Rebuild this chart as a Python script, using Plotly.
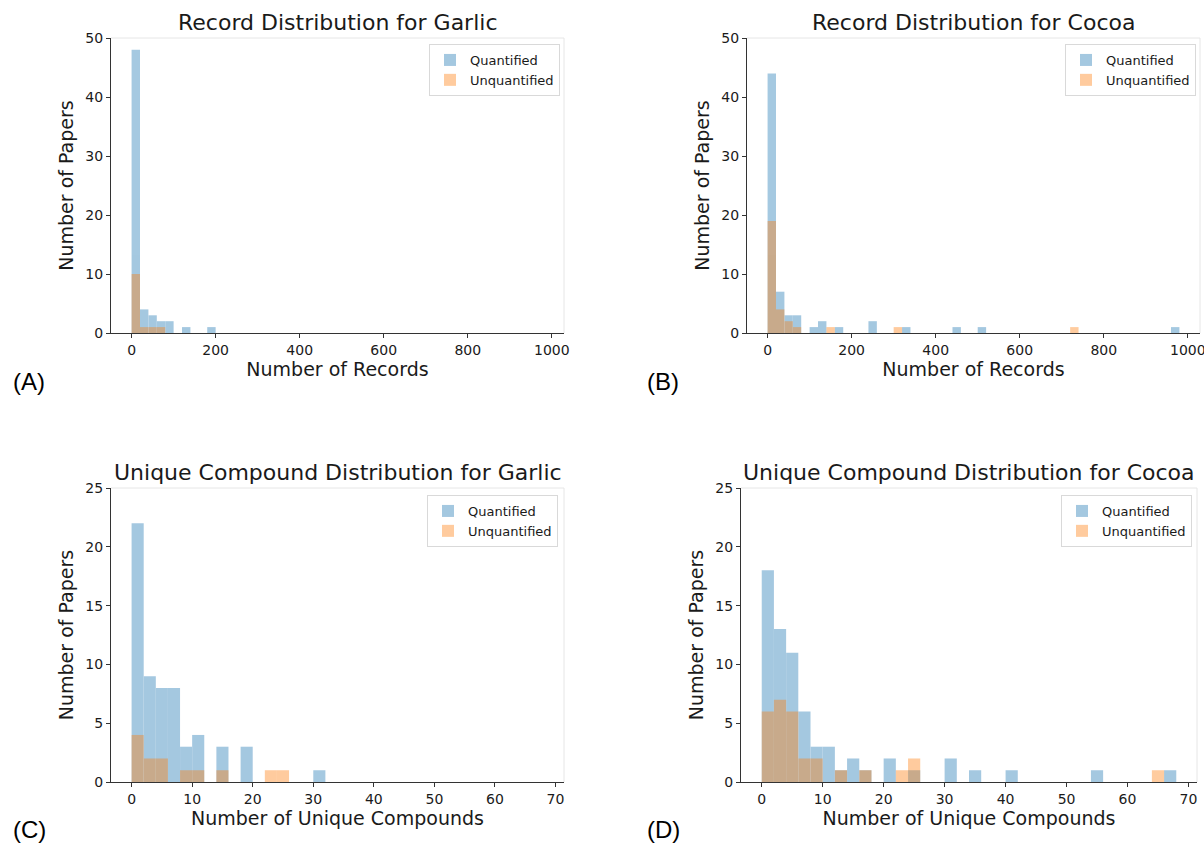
import plotly.graph_objects as go

# ---------------- data (histogram bin left edges & counts) ----------------
rec_bin_width = 20
cmp_bin_width = 2

garlic_rec_q_x = [0, 20, 40, 60, 80, 120, 180]
garlic_rec_q_y = [48, 4, 3, 2, 2, 1, 1]
garlic_rec_u_x = [0, 20, 40, 60]
garlic_rec_u_y = [10, 1, 1, 1]

cocoa_rec_q_x = [0, 20, 40, 60, 100, 120, 160, 240, 320, 440, 500, 960]
cocoa_rec_q_y = [44, 7, 3, 3, 1, 2, 1, 2, 1, 1, 1, 1]
cocoa_rec_u_x = [0, 20, 40, 60, 140, 300, 720]
cocoa_rec_u_y = [19, 4, 2, 1, 1, 1, 1]

garlic_cmp_q_x = [0, 2, 4, 6, 8, 10, 14, 18, 30]
garlic_cmp_q_y = [22, 9, 8, 8, 3, 4, 3, 3, 1]
garlic_cmp_u_x = [0, 2, 4, 8, 10, 14, 22, 24]
garlic_cmp_u_y = [4, 2, 2, 1, 1, 1, 1, 1]

cocoa_cmp_q_x = [0, 2, 4, 6, 8, 10, 12, 14, 16, 20, 24, 30, 34, 40, 54, 66]
cocoa_cmp_q_y = [18, 13, 11, 6, 3, 3, 1, 2, 1, 2, 1, 2, 1, 1, 1, 1]
cocoa_cmp_u_x = [0, 2, 4, 6, 8, 12, 16, 22, 24, 64]
cocoa_cmp_u_y = [6, 7, 6, 2, 2, 1, 1, 1, 2, 1]

titles = ["Record Distribution for Garlic", "Record Distribution for Cocoa",
          "Unique Compound Distribution for Garlic", "Unique Compound Distribution for Cocoa"]
x_titles = ["Number of Records", "Number of Records",
            "Number of Unique Compounds", "Number of Unique Compounds"]
y_title = "Number of Papers"
panel_labels = ["(A)", "(B)", "(C)", "(D)"]
series_names = ["Quantified", "Unquantified"]
rec_ticks = [0, 200, 400, 600, 800, 1000]
cmp_ticks = [0, 10, 20, 30, 40, 50, 60, 70]
rec_yticks = [0, 10, 20, 30, 40, 50]
cmp_yticks = [0, 5, 10, 15, 20, 25]

# ---------------- figure ----------------
W, H = 1204, 843
C_Q = "#1f77b4"
C_U = "#ff7f0e"
FONT = "DejaVu Sans"
TXT = "#1a1a1a"


def fx(px):
    return px / W


def fy(py):
    return 1 - py / H


panels = [
    dict(q=(garlic_rec_q_x, garlic_rec_q_y), u=(garlic_rec_u_x, garlic_rec_u_y), bw=rec_bin_width,
         px=(111, 564), py=(38, 333), xr=[-49, 1029], yr=[0, 50], xt=rec_ticks, yt=rec_yticks,
         leg=(560, 44), lab=(11, 381)),
    dict(q=(cocoa_rec_q_x, cocoa_rec_q_y), u=(cocoa_rec_u_x, cocoa_rec_u_y), bw=rec_bin_width,
         px=(747, 1200), py=(38, 333), xr=[-49, 1029], yr=[0, 50], xt=rec_ticks, yt=rec_yticks,
         leg=(1196, 44), lab=(645, 381)),
    dict(q=(garlic_cmp_q_x, garlic_cmp_q_y), u=(garlic_cmp_u_x, garlic_cmp_u_y), bw=cmp_bin_width,
         px=(111, 564), py=(488, 782), xr=[-3.4, 71.4], yr=[0, 25], xt=cmp_ticks, yt=cmp_yticks,
         leg=(558, 495), lab=(11, 829)),
    dict(q=(cocoa_cmp_q_x, cocoa_cmp_q_y), u=(cocoa_cmp_u_x, cocoa_cmp_u_y), bw=cmp_bin_width,
         px=(741, 1197), py=(488, 782), xr=[-3.4, 71.4], yr=[0, 25], xt=cmp_ticks, yt=cmp_yticks,
         leg=(1192, 495), lab=(645, 829)),
]

fig = go.Figure()
layout = dict(width=W, height=H, margin=dict(l=0, r=0, t=0, b=0, autoexpand=False),
              paper_bgcolor="white", plot_bgcolor="white", barmode="overlay",
              font=dict(family=FONT, color=TXT), annotations=[], shapes=[])

for i, p in enumerate(panels):
    n = "" if i == 0 else str(i + 1)
    xa, ya = "x" + n, "y" + n
    leg = "legend" + n
    for (xs, ys), name, col in [(p["q"], series_names[0], C_Q), (p["u"], series_names[1], C_U)]:
        fig.add_trace(go.Bar(x=xs, y=ys, width=p["bw"], offset=0, name=name,
                             marker=dict(color=col, line=dict(width=0)), opacity=0.4,
                             xaxis=xa, yaxis=ya, legend=leg))
    x0, x1 = fx(p["px"][0]), fx(p["px"][1])
    y1, y0 = fy(p["py"][0]), fy(p["py"][1])
    layout["xaxis" + n] = dict(domain=[x0, x1], range=p["xr"], anchor=ya, tickvals=p["xt"],
                               automargin=False, ticklabeloverflow="allow",
                               showline=True, linecolor="#333", linewidth=1.3, ticks="outside",
                               ticklen=4, tickcolor="#333", showgrid=False, zeroline=False,
                               tickfont=dict(size=14, family=FONT, color=TXT),
                               title=dict(text=x_titles[i], font=dict(size=19, family=FONT, color=TXT),
                                          standoff=2))
    layout["yaxis" + n] = dict(domain=[y0, y1], range=p["yr"], anchor=xa, tickvals=p["yt"],
                               automargin=False, ticklabeloverflow="allow",
                               showline=True, linecolor="#333", linewidth=1.3, ticks="outside",
                               ticklen=4, tickcolor="#333", showgrid=False, zeroline=False,
                               tickfont=dict(size=14, family=FONT, color=TXT),
                               title=dict(text=y_title, font=dict(size=19, family=FONT, color=TXT),
                                          standoff=6))
    layout[leg] = dict(x=fx(p["leg"][0]), y=fy(p["leg"][1]), xanchor="right", yanchor="top",
                       bgcolor="rgba(255,255,255,0.8)", bordercolor="#d9d9d9", borderwidth=1,
                       font=dict(size=13, family=FONT, color=TXT), itemsizing="constant",
                       tracegroupgap=0)
    # faint top / right spines
    layout["shapes"].append(dict(type="line", xref="paper", yref="paper", x0=x0, x1=x1, y0=y1, y1=y1,
                                 line=dict(color="#e6e6e6", width=1)))
    layout["shapes"].append(dict(type="line", xref="paper", yref="paper", x0=x1, x1=x1, y0=y0, y1=y1,
                                 line=dict(color="#e6e6e6", width=1)))
    layout["annotations"].append(dict(text=titles[i], xref="paper", yref="paper", x=(x0 + x1) / 2,
                                      y=y1 + 1 / H, xanchor="center", yanchor="bottom", showarrow=False,
                                      font=dict(size=22, family=FONT, color=TXT)))
    layout["annotations"].append(dict(text=panel_labels[i], xref="paper", yref="paper",
                                      x=fx(p["lab"][0]), y=fy(p["lab"][1]), xanchor="left",
                                      yanchor="middle", showarrow=False,
                                      font=dict(size=24, family="Liberation Sans", color="black")))

fig.update_layout(**layout)
fig.write_html("out.html", config={"displayModeBar": False},
               post_script="document.body.style.margin='0';document.body.style.overflow='hidden';")
